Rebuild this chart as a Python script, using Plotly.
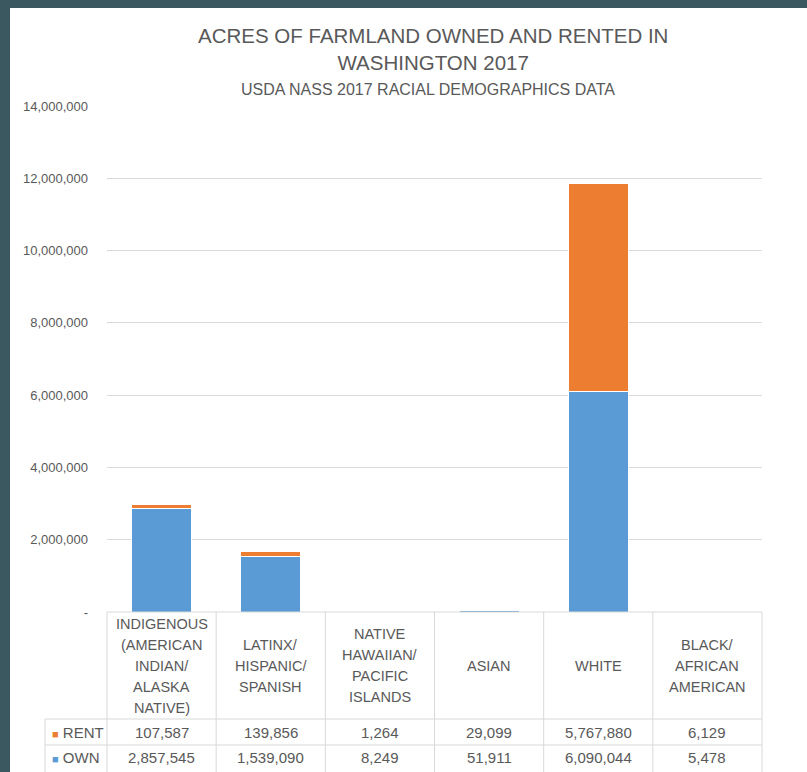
import plotly.graph_objects as go

###### DATA ######
groups = ['INDIGENOUS', 'LATINX', 'NATIVE HAWAIIAN', 'ASIAN', 'WHITE', 'BLACK']
header_labels = [
    'INDIGENOUS<br>(AMERICAN<br>INDIAN/<br>ALASKA<br>NATIVE)',
    'LATINX/<br>HISPANIC/<br>SPANISH',
    'NATIVE<br>HAWAIIAN/<br>PACIFIC<br>ISLANDS',
    'ASIAN',
    'WHITE',
    'BLACK/<br>AFRICAN<br>AMERICAN',
]
rent = [107587, 139856, 1264, 29099, 5767880, 6129]
own = [2857545, 1539090, 8249, 51911, 6090044, 5478]
y_ticks = [0, 2000000, 4000000, 6000000, 8000000, 10000000, 12000000, 14000000]
y_ticktext = ['-'] + ['{:,.0f}'.format(v) for v in y_ticks[1:]]

title = 'ACRES OF FARMLAND OWNED AND RENTED IN<br>WASHINGTON 2017'
subtitle = 'USDA NASS 2017 RACIAL DEMOGRAPHICS DATA'

###### STYLE ######
W, H = 807, 772
L, R, T, B = 107, 45, 106, 160
PH = H - T - B
PW = W - L - R
BLUE = '#5b9bd5'
ORANGE = '#ed7d31'
GREY = '#595959'
LINE = '#d9d9d9'
FONT = 'Liberation Sans, Arial, sans-serif'


def py(pix):
    # pixel row -> paper y
    return (H - B - pix) / PH


def px_(pix):
    # pixel column -> paper x
    return (pix - L) / PW


fig = go.Figure()
fig.add_trace(go.Bar(x=groups, y=own, name='OWN', marker_color=BLUE,
                     marker_line=dict(color='white', width=1)))
fig.add_trace(go.Bar(x=groups, y=rent, name='RENT', marker_color=ORANGE,
                     marker_line=dict(color='white', width=1)))

fig.update_layout(
    width=W, height=H,
    margin=dict(l=L, r=R, t=T, b=B),
    barmode='stack', bargap=0.45,
    paper_bgcolor='#3b5860', plot_bgcolor='white',
    showlegend=False,
    font=dict(family=FONT, color=GREY),
)
fig.update_xaxes(showticklabels=False, showgrid=False, zeroline=False,
                 range=[-0.5, 5.5])
fig.update_yaxes(range=[0, 14000000], tickvals=y_ticks, ticktext=y_ticktext,
                 gridcolor=LINE, gridwidth=1, zeroline=False,
                 tickfont=dict(size=13, color=GREY), ticklabelstandoff=18)

# white card behind the chart
fig.add_shape(type='rect', xref='paper', yref='paper', layer='below',
              x0=px_(10), x1=px_(W + 5), y0=py(H + 5), y1=py(8),
              fillcolor='white', line_width=0)

# title + subtitle
fig.add_annotation(text=title, xref='paper', yref='paper', x=0.497, y=py(48.5),
                   showarrow=False, yanchor='middle',
                   font=dict(size=20.5, color=GREY))
fig.add_annotation(text=subtitle, xref='paper', yref='paper', x=0.49, y=py(90),
                   showarrow=False, yanchor='middle',
                   font=dict(size=16, color=GREY))

# data table under the plot
row_top, row_head, row_rent, row_own = 612, 719, 745, 772
n = len(groups)
line = dict(color=LINE, width=1)
fig.add_shape(type='line', xref='paper', yref='paper', x0=0, x1=1,
              y0=py(row_top), y1=py(row_top), line=line)
for r in (row_head, row_rent):
    fig.add_shape(type='line', xref='paper', yref='paper', x0=px_(45), x1=1,
                  y0=py(r), y1=py(r), line=line)
for i in range(n + 1):
    fig.add_shape(type='line', xref='paper', yref='paper', x0=i / n, x1=i / n,
                  y0=py(row_top), y1=py(row_own), line=line)
fig.add_shape(type='line', xref='paper', yref='paper', x0=px_(45), x1=px_(45),
              y0=py(row_head), y1=py(row_own), line=line)

head_mid = (row_top + row_head) / 2
line_gap = 21
for g, lab, rv, ov in zip(groups, header_labels, rent, own):
    parts = lab.split('<br>')
    for k, part in enumerate(parts):
        fig.add_annotation(text=part, x=g, xref='x', yref='paper',
                           y=py(head_mid + (k - (len(parts) - 1) / 2) * line_gap),
                           yanchor='middle', showarrow=False,
                           font=dict(size=14.5, color=GREY))
    fig.add_annotation(text='{:,.0f}'.format(rv), x=g, xref='x', yref='paper',
                       y=py((row_head + row_rent) / 2), yanchor='middle',
                       showarrow=False, font=dict(size=15, color=GREY))
    fig.add_annotation(text='{:,.0f}'.format(ov), x=g, xref='x', yref='paper',
                       y=py((row_rent + 770) / 2), yanchor='middle',
                       showarrow=False, font=dict(size=15, color=GREY))

for name, color, cy in [('RENT', ORANGE, (row_head + row_rent) / 2),
                        ('OWN', BLUE, (row_rent + 770) / 2)]:
    fig.add_annotation(
        text=f'<span style="color:{color};font-size:11px">■</span> {name}',
        xref='paper', yref='paper', x=px_(50), y=py(cy),
        xanchor='left', yanchor='middle', showarrow=False,
        font=dict(size=15, color=GREY))

fig.write_html('out.html', config={'displayModeBar': False},
               post_script="document.body.style.margin='0';"
                           "document.body.style.overflow='hidden';")
